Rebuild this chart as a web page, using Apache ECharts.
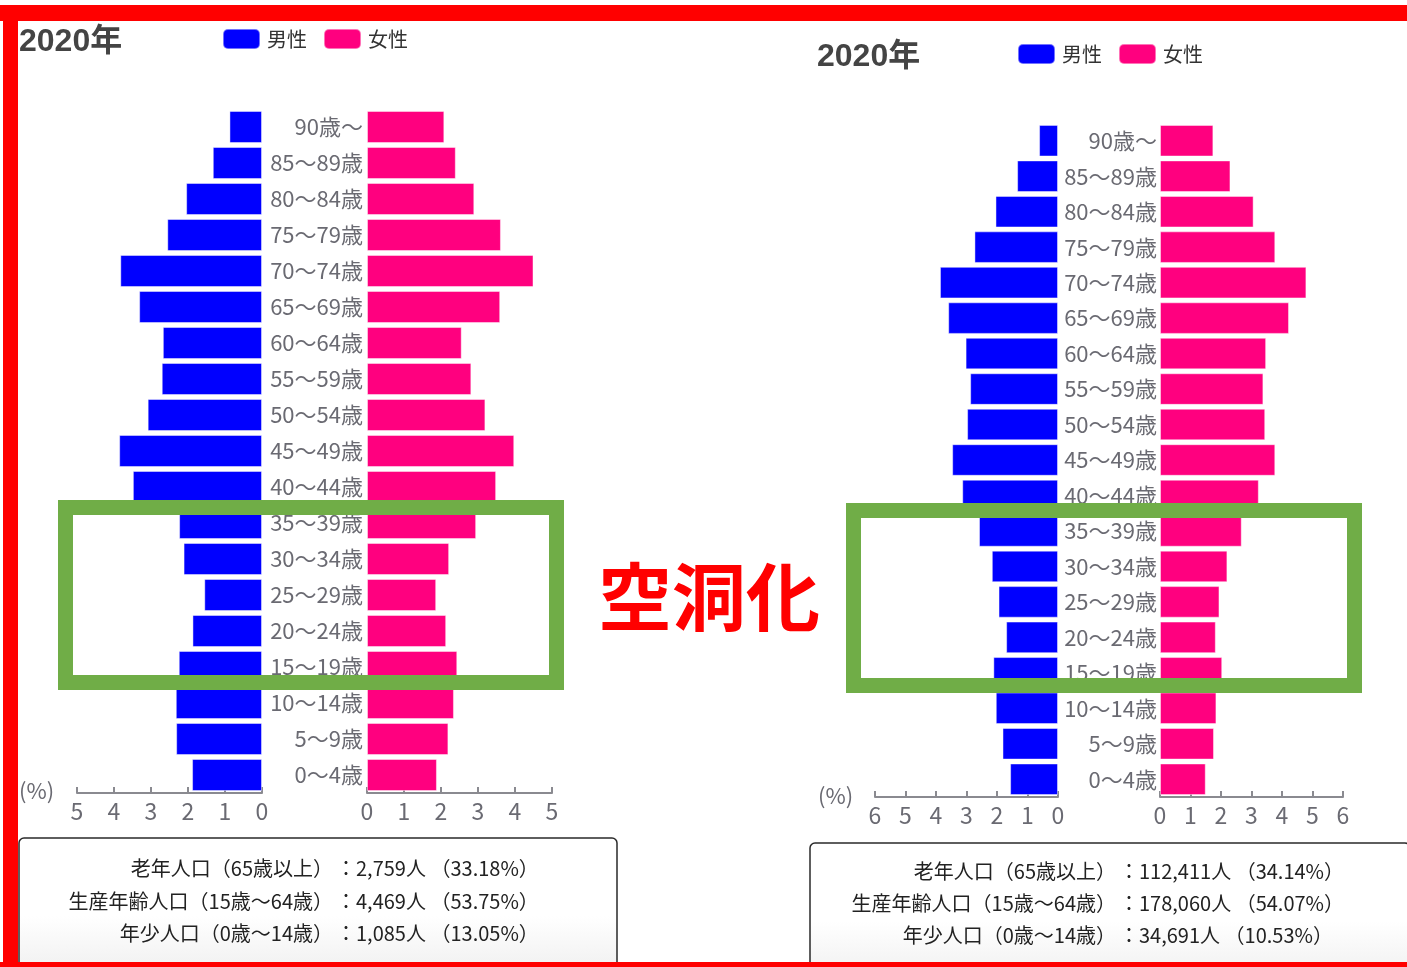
<!DOCTYPE html>
<html>
<head>
<meta charset="utf-8">
<script src="https://cdn.jsdelivr.net/npm/echarts@6/dist/echarts.min.js"></script>
<style>
html,body{margin:0;padding:0;background:#fff;}
#chart{width:1407px;height:967px;}
</style>
</head>
<body>
<div id="chart"></div>
<script>
// ---- data ----
const ages = ['90歳〜','85〜89歳','80〜84歳','75〜79歳','70〜74歳','65〜69歳','60〜64歳','55〜59歳','50〜54歳','45〜49歳','40〜44歳','35〜39歳','30〜34歳','25〜29歳','20〜24歳','15〜19歳','10〜14歳','5〜9歳','0〜4歳'];
const leftMale   = [0.88,1.33,2.05,2.56,3.83,3.32,2.68,2.71,3.09,3.86,3.49,2.24,2.12,1.56,1.88,2.25,2.33,2.32,1.89];
const leftFemale = [2.09,2.40,2.90,3.62,4.50,3.60,2.56,2.82,3.20,3.98,3.49,2.95,2.22,1.87,2.14,2.44,2.35,2.20,1.89];
const rightMale   = [0.62,1.34,2.05,2.74,3.87,3.60,3.03,2.88,2.98,3.47,3.14,2.59,2.17,1.95,1.70,2.12,2.04,1.82,1.57];
const rightFemale = [1.75,2.31,3.07,3.78,4.80,4.23,3.48,3.39,3.45,3.78,3.24,2.68,2.21,1.95,1.83,2.04,1.85,1.77,1.50];
const leftMax = 5;
const rightMax = 6;
const panelTitle = '2020年';
const seriesNames = ['男性','女性'];
const statLabels = ['老年人口（65歳以上）','生産年齢人口（15歳〜64歳）','年少人口（0歳〜14歳）'];
const leftStats  = ['：2,759人 （33.18%）','：4,469人 （53.75%）','：1,085人 （13.05%）'];
const rightStats = ['：112,411人 （34.14%）','：178,060人 （54.07%）','：34,691人 （10.53%）'];
const centerText = '空洞化';

// ---- styles ----
const FONT = "'Noto Sans CJK JP', 'Noto Sans', sans-serif";
const BLUE = '#0000FF';
const PINK = '#FF007F';
const GRAY = '#6a6a72';

const chart = echarts.init(document.getElementById('chart'), null, {renderer:'canvas'});

function xAx(gridIndex, max, inverse){
  return {
    type:'value', gridIndex, min:0, max, interval:1, inverse,
    axisLine:{show:true, lineStyle:{color:'#8a8a90', width:2}},
    axisTick:{show:true, inside:true, length:6, lineStyle:{color:'#8a8a90', width:2}},
    axisLabel:{color:GRAY, fontSize:23, fontFamily:FONT, margin:7},
    splitLine:{show:false}
  };
}
function yAx(gridIndex, showLabel, margin){
  return {
    type:'category', gridIndex, data:ages, inverse:true,
    axisLine:{show:false}, axisTick:{show:false},
    axisLabel:{show:showLabel, color:GRAY, fontSize:22, fontFamily:FONT, margin, align:'right'}
  };
}
function barS(name, data, idx, color){
  return {
    name, type:'bar', xAxisIndex:idx, yAxisIndex:idx, data, barWidth:'89%',
    itemStyle:{color, borderColor:'rgba(255,255,255,0.45)', borderWidth:1},
    silent:true
  };
}

const graphic = [];
// red frame
graphic.push({type:'rect', shape:{x:0,y:5,width:1407,height:16}, style:{fill:'#FF0000'}, z:100});
graphic.push({type:'rect', shape:{x:3,y:5,width:15,height:962}, style:{fill:'#FF0000'}, z:100});
graphic.push({type:'rect', shape:{x:0,y:962,width:1407,height:5}, style:{fill:'#FF0000'}, z:100});
// stats boxes
function statBox(x, y, w, h, labelRight, ys, values){
  graphic.push({type:'rect', shape:{x, y, width:w, height:h, r:5},
    style:{fill:new echarts.graphic.LinearGradient(0,0,0,1,[{offset:0,color:'#ffffff'},{offset:0.6,color:'#ffffff'},{offset:1,color:'#f1f1f1'}]), stroke:'#2a2a2a', lineWidth:1.5}, z:50});
  ys.forEach((yy,i)=>{
    graphic.push({type:'text', z:51, style:{text:statLabels[i], x:labelRight, y:yy, align:'right', verticalAlign:'middle', fill:'#222', font:'20px '+FONT}});
    graphic.push({type:'text', z:51, style:{text:values[i], x:labelRight+3, y:yy, align:'left', verticalAlign:'middle', fill:'#222', font:'20px '+FONT}});
  });
}
statBox(19, 838, 598, 130, 333, [868,901,933], leftStats);
statBox(810, 843, 600, 130, 1116, [871,903,935], rightStats);
// (%) labels
graphic.push({type:'text', z:20, style:{text:'(%)', x:19, y:791, verticalAlign:'middle', fill:GRAY, font:'22px '+FONT}});
graphic.push({type:'text', z:20, style:{text:'(%)', x:818, y:796, verticalAlign:'middle', fill:GRAY, font:'22px '+FONT}});
// green highlight rectangles
graphic.push({type:'rect', z:60, shape:{x:65.5,y:507.5,width:491,height:175}, style:{fill:'none', stroke:'#70AD47', lineWidth:15}});
graphic.push({type:'rect', z:60, shape:{x:853.5,y:510.5,width:501,height:175}, style:{fill:'none', stroke:'#70AD47', lineWidth:15}});
// center text
graphic.push({type:'text', z:60, style:{text:centerText, x:709, y:597, align:'center', verticalAlign:'middle', fill:'#FF0000', font:'bold 74px '+FONT}});

const titleFont = "'Liberation Sans', 'Noto Sans CJK JP', sans-serif";
const option = {
  backgroundColor:'#ffffff',
  animation:false,
  title:[
    {text:panelTitle, left:19, top:26, padding:0, textStyle:{fontSize:32, fontWeight:'bold', color:'#444', fontFamily:titleFont}},
    {text:panelTitle, left:817, top:41, padding:0, textStyle:{fontSize:32, fontWeight:'bold', color:'#444', fontFamily:titleFont}}
  ],
  legend:[
    {data:seriesNames, left:222, top:28, padding:0, itemWidth:37, itemHeight:20, itemGap:16, icon:'roundRect', textStyle:{fontSize:20, color:'#333', fontFamily:FONT, padding:[0,0,0,2]}, selectedMode:false},
    {data:seriesNames, left:1017, top:43, padding:0, itemWidth:37, itemHeight:20, itemGap:16, icon:'roundRect', textStyle:{fontSize:20, color:'#333', fontFamily:FONT, padding:[0,0,0,2]}, selectedMode:false}
  ],
  grid:[
    {left:77, top:109, width:185, height:684, outerBoundsMode:'none'},
    {left:367, top:109, width:185, height:684, outerBoundsMode:'none'},
    {left:875, top:123, width:183, height:674, outerBoundsMode:'none'},
    {left:1160, top:123, width:183, height:674, outerBoundsMode:'none'}
  ],
  xAxis:[ xAx(0,leftMax,true), xAx(1,leftMax,false), xAx(2,rightMax,true), xAx(3,rightMax,false) ],
  yAxis:[ yAx(0,false,0), yAx(1,true,4), yAx(2,false,0), yAx(3,true,3) ],
  series:[
    barS(seriesNames[0], leftMale, 0, BLUE),
    barS(seriesNames[1], leftFemale, 1, PINK),
    barS(seriesNames[0], rightMale, 2, BLUE),
    barS(seriesNames[1], rightFemale, 3, PINK)
  ],
  graphic
};
chart.setOption(option);
</script>
</body>
</html>
